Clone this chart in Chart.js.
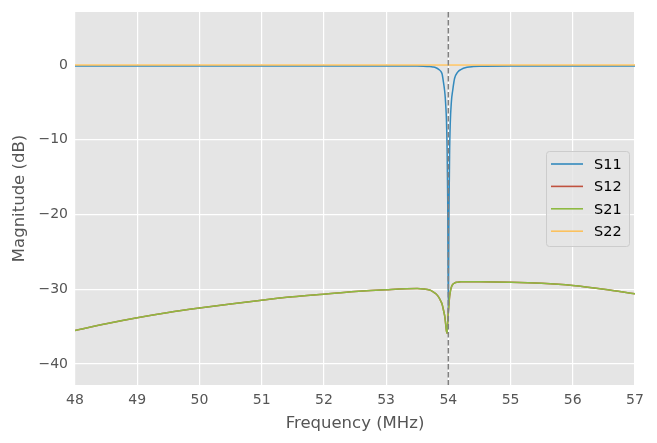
<!DOCTYPE html>
<html>
<head>
<meta charset="utf-8">
<script src="https://cdn.jsdelivr.net/npm/chart.js@4/dist/chart.umd.min.js"></script>
<style>
  body { margin: 0; background: #ffffff; }
</style>
</head>
<body>
<canvas id="sparams" width="657" height="443"></canvas>
<script>
// frequency samples (MHz), denser around the resonance
var freqMHz = [48, 48.5, 49, 49.5, 50, 50.5, 51, 51.5, 52, 52.5, 53, 53.5, 53.6, 53.7, 53.75,
    53.8, 53.85, 53.88, 53.9, 53.92, 53.94, 53.95, 53.96, 53.97, 53.98, 53.99, 54, 54.01,
    54.02, 54.03, 54.05, 54.07, 54.1, 54.15, 54.2, 54.3, 54.4, 54.5, 55, 55.5, 56, 56.5, 57];

// S11 (dB)
var s11 = [-0.12, -0.12, -0.12, -0.12, -0.12, -0.12, -0.12, -0.12, -0.12, -0.12, -0.12, -0.13, -0.15, -0.2, -0.25,
    -0.35, -0.6, -0.85, -1.2, -2.2, -3.4, -4.3, -5.6, -7.4, -11, -18, -33, -20,
    -12, -8, -4.8, -3.4, -1.8, -0.95, -0.6, -0.3, -0.2, -0.15, -0.12, -0.12, -0.12, -0.12, -0.12];

// S21 (dB), S12 lies right under it
var s21 = [-35.5, -34.6, -33.8, -33.1, -32.5, -31.95, -31.45, -31.0, -30.65, -30.3, -30.05, -29.9, -29.95, -30.1, -30.3,
    -30.6, -31.1, -31.6, -32.0, -32.7, -33.5, -34.1, -34.9, -35.6, -35.9, -34.5, -33, -32,
    -31, -30.4, -29.7, -29.35, -29.15, -29.05, -29.0, -29.0, -29.0, -29.0, -29.05, -29.2, -29.5, -30.0, -30.6];
var s12 = [-35.5, -34.6, -33.8, -33.1, -32.5, -31.95, -31.45, -31.0, -30.65, -30.3, -30.05, -29.9, -29.95, -30.1, -30.3,
    -30.6, -31.1, -31.6, -32.0, -32.7, -33.5, -34.1, -34.9, -35.6, -35.9, -34.5, -33, -32,
    -31, -30.4, -29.7, -29.35, -29.15, -29.05, -29.0, -29.0, -29.0, -29.0, -29.05, -29.2, -29.5, -30.0, -30.6];

// S22 (dB) is flat
var s22Freq = [48, 54, 57];
var s22 = [0, 0, 0];

var seriesNames = ["S11", "S12", "S21", "S22"];
var seriesColors = ["#348ABD", "#C0523F", "#8EBA42", "#FBC15E"];

var xTicks = [48, 49, 50, 51, 52, 53, 54, 55, 56, 57];
var yTicks = [-40, -30, -20, -10, 0];
var markerFreq = 54;

function pts(xs, ys) {
    return xs.map(function (x, i) { return { x: x, y: ys[i] }; });
}

var txt = "#555555";
var fam = "'DejaVu Sans', sans-serif";

var bgPlugin = {
    id: 'bgPlugin',
    beforeDraw: function (chart) {
        var a = chart.chartArea, c = chart.ctx;
        c.save();
        c.fillStyle = "#E5E5E5";
        c.fillRect(a.left, a.top, a.right - a.left, a.bottom - a.top);
        c.restore();
    },
    afterDatasetsDraw: function (chart) {
        var a = chart.chartArea, c = chart.ctx;
        var px = chart.scales.x.getPixelForValue(markerFreq);
        c.save();
        c.strokeStyle = "#808080";
        c.lineWidth = 1.5;
        c.setLineDash([5.5, 2.5]);
        c.beginPath();
        c.moveTo(px, a.top);
        c.lineTo(px, a.bottom);
        c.stroke();
        c.restore();

        // legend box, right side of the plot
        var bx = 546, by = 151, bw = 83, bh = 95;
        c.save();
        c.fillStyle = "rgba(229,229,229,0.8)";
        c.strokeStyle = "#CCCCCC";
        c.lineWidth = 1;
        c.beginPath();
        c.roundRect(bx + 0.5, by + 0.5, bw, bh, 3);
        c.fill();
        c.stroke();
        c.font = "14.5px " + fam;
        c.textBaseline = "middle";
        c.fillStyle = "#000000";
        for (var i = 0; i < seriesNames.length; i++) {
            var ry = by + 13 + i * 22.4;
            c.strokeStyle = seriesColors[i];
            c.lineWidth = 1.6;
            c.beginPath();
            c.moveTo(551, ry);
            c.lineTo(583, ry);
            c.stroke();
            c.fillText(seriesNames[i], 594, ry + 1);
        }
        c.restore();
    }
};

var ctx = document.getElementById('sparams').getContext('2d');
var chart = new Chart(ctx, {
    type: 'line',
    data: {
        datasets: [
            { label: "S11", data: pts(freqMHz, s11), borderColor: seriesColors[0], order: 4 },
            { label: "S12", data: pts(freqMHz, s12), borderColor: seriesColors[1], order: 3 },
            { label: "S21", data: pts(freqMHz, s21), borderColor: seriesColors[2], order: 2 },
            { label: "S22", data: pts(s22Freq, s22), borderColor: seriesColors[3], order: 1 }
        ]
    },
    options: {
        responsive: false,
        animation: false,
        layout: { padding: { top: 12, right: 22, left: 0, bottom: 0 } },
        elements: {
            point: { radius: 0 },
            line: { borderWidth: 1.5, cubicInterpolationMode: 'monotone', fill: false }
        },
        plugins: { legend: { display: false }, tooltip: { enabled: false } },
        scales: {
            x: {
                type: 'linear',
                min: 48, max: 57,
                afterBuildTicks: function (s) { s.ticks = xTicks.map(function (v) { return { value: v }; }); },
                afterFit: function (s) { s.height = 58; s.paddingLeft = 0; s.paddingRight = 0; },
                grid: { color: "#ffffff", lineWidth: 1.2, drawTicks: false },
                border: { display: false },
                ticks: { color: txt, font: { family: fam, size: 14 }, padding: 7, maxRotation: 0 },
                title: { display: true, text: "Frequency (MHz)", color: txt, font: { family: fam, size: 16.5 }, padding: { top: 0, bottom: 9 } }
            },
            y: {
                min: -42.8, max: 7.1,
                afterBuildTicks: function (s) { s.ticks = yTicks.map(function (v) { return { value: v }; }); },
                afterFit: function (s) { s.width = 75; s.paddingTop = 0; s.paddingBottom = 0; },
                grid: { color: "#ffffff", lineWidth: 1.2, drawTicks: false },
                border: { display: false },
                ticks: {
                    color: txt, font: { family: fam, size: 14 }, padding: 7,
                    callback: function (v) { return String(v).replace('-', '\u2212'); }
                },
                title: { display: true, text: "Magnitude (dB)", color: txt, font: { family: fam, size: 16.5 }, padding: { top: 10 } }
            }
        }
    },
    plugins: [bgPlugin]
});
</script>
</body>
</html>
